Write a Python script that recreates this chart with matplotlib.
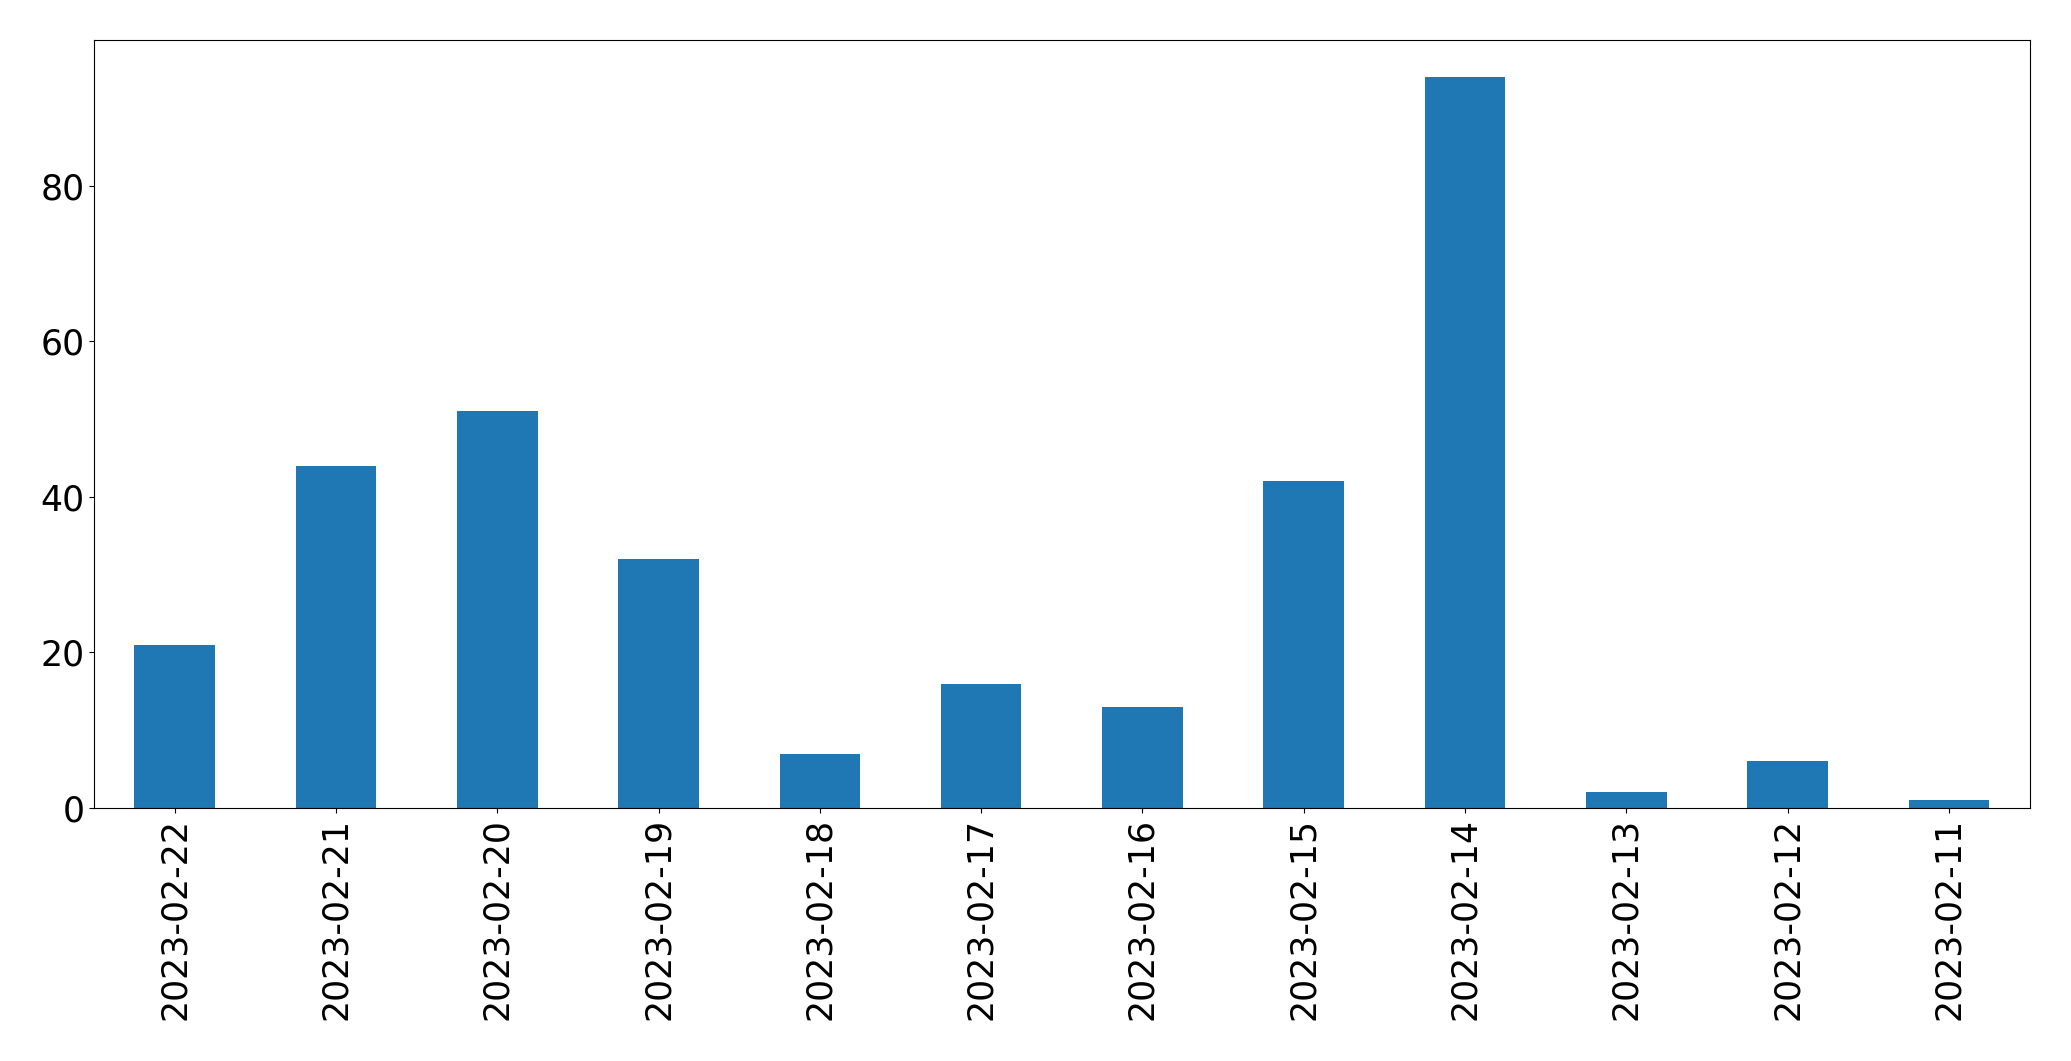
import matplotlib
matplotlib.use('Agg')
import matplotlib.pyplot as plt

dates = ['2023-02-22', '2023-02-21', '2023-02-20', '2023-02-19', '2023-02-18', '2023-02-17',
         '2023-02-16', '2023-02-15', '2023-02-14', '2023-02-13', '2023-02-12', '2023-02-11']
counts = [21, 44, 51, 32, 7, 16, 13, 42, 94, 2, 6, 1]

fig = plt.figure(figsize=(20.71, 10.61), dpi=100)
ax = fig.add_subplot(111)
pos = range(len(dates))
ax.bar(pos, counts, width=0.5, color='#1f77b4')
ax.set_xlim(-0.5, len(dates) - 0.5)
ax.set_xticks(list(pos))
ax.set_xticklabels(dates, rotation=90)
ax.tick_params(labelsize=25)

fig.subplots_adjust(left=0.0454, right=0.980, top=0.962, bottom=0.2385)
plt.savefig('out.png')
plt.close()
